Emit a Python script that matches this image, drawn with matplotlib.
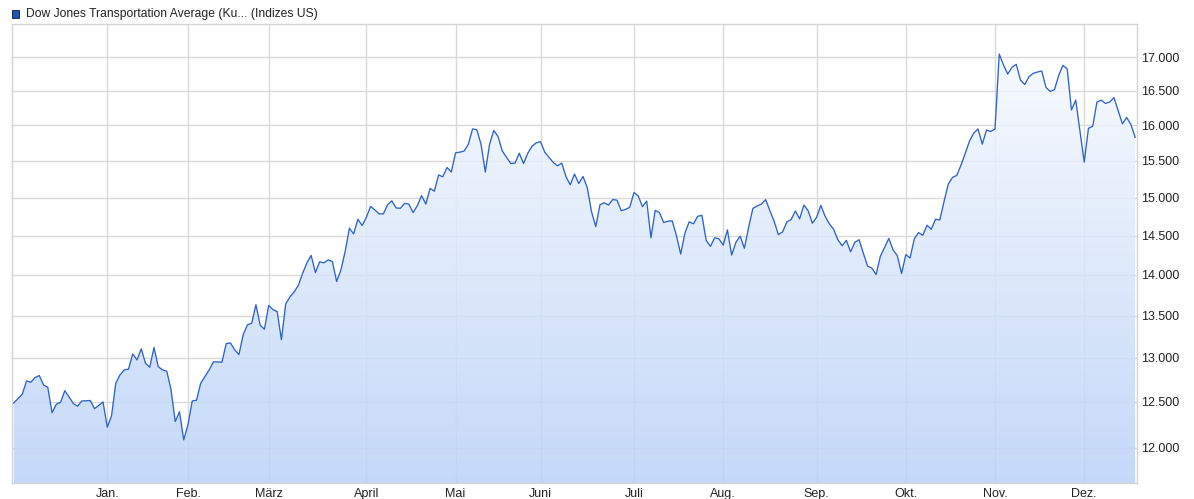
"""
Dow Jones Transportation Average, one year of daily closes, drawn on a log
scale with a gradient area fill (finance-portal look).
"""

import numpy as np
import matplotlib
matplotlib.use("Agg")
import matplotlib.pyplot as plt
from matplotlib.colors import LinearSegmentedColormap
from matplotlib.patches import Rectangle

plt.rcParams["font.family"] = ["Liberation Sans", "DejaVu Sans"]

TITLE = "Dow Jones Transportation Average (Ku... (Indizes US)"

# trading-day index (0 = first trading day of January) and closing value
days = [-22, -20, -19, -18, -17, -16, -15, -14, -13, -12, -11, -10, -9, -8, -7, -6,
        -4, -3, -1, 0, 1, 2, 3, 4, 5, 6, 7, 8, 9, 10, 11, 12, 13, 14, 15, 16, 17, 18,
        19, 20, 21, 22, 24, 25, 27, 28, 29, 30, 31, 32, 33, 34, 35, 36, 37, 38, 39,
        40, 41, 42, 43, 44, 45, 46, 47, 48, 49, 50, 51, 52, 53, 54, 55, 56, 57, 58,
        59, 60, 61, 62, 63, 64, 65, 66, 67, 68, 69, 70, 71, 72, 73, 74, 75, 76, 77,
        78, 79, 80, 81, 82, 83, 84, 85, 86, 87, 88, 89, 90, 91, 92, 93, 94, 95, 96,
        97, 98, 99, 100, 101, 102, 103, 104, 105, 106, 107, 108, 109, 110, 111, 112,
        113, 114, 115, 116, 117, 118, 119, 120, 121, 122, 123, 124, 125, 126, 127,
        128, 129, 130, 131, 132, 133, 134, 135, 136, 137, 138, 139, 140, 141, 142,
        143, 144, 145, 146, 147, 148, 149, 150, 151, 152, 153, 154, 155, 156, 157,
        158, 159, 160, 161, 162, 163, 164, 165, 166, 167, 168, 169, 170, 171, 172,
        173, 174, 175, 176, 177, 178, 179, 180, 181, 182, 183, 184, 185, 186, 187,
        188, 189, 190, 191, 192, 193, 194, 195, 196, 197, 198, 199, 200, 201, 202,
        203, 204, 205, 206, 207, 208, 209, 210, 211, 212, 213, 214, 215, 216, 217,
        218, 219, 220, 221, 222, 223, 224, 225, 226, 227, 228, 230, 231, 232, 233,
        234, 235, 236, 237, 238, 239, 240, 241, 242]

closes = [12489, 12588, 12737, 12722, 12775, 12798, 12691, 12665, 12380, 12475, 12497,
          12626, 12557, 12483, 12453, 12511, 12516, 12425, 12500, 12222, 12345, 12711,
          12806, 12863, 12871, 13048, 12977, 13107, 12939, 12893, 13123, 12900, 12863,
          12848, 12642, 12283, 12391, 12084, 12250, 12511, 12519, 12711, 12863, 12956,
          12952, 13168, 13176, 13095, 13040, 13274, 13390, 13410, 13633, 13386, 13338,
          13624, 13574, 13550, 13214, 13641, 13728, 13790, 13872, 14021, 14152, 14246,
          14029, 14165, 14152, 14189, 14169, 13918, 14061, 14295, 14595, 14522, 14713,
          14631, 14739, 14883, 14836, 14784, 14784, 14905, 14957, 14862, 14858, 14923,
          14914, 14801, 14893, 15027, 14914, 15123, 15087, 15305, 15282, 15409, 15346,
          15612, 15621, 15636, 15729, 15948, 15937, 15729, 15346, 15729, 15927, 15840,
          15636, 15548, 15463, 15469, 15606, 15463, 15606, 15704, 15752, 15767, 15621,
          15548, 15477, 15432, 15469, 15282, 15173, 15318, 15191, 15286, 15136, 14814,
          14617, 14905, 14931, 14901, 14974, 14966, 14826, 14843, 14870, 15068, 15023,
          14879, 14953, 14472, 14830, 14801, 14670, 14687, 14692, 14500, 14263, 14535,
          14679, 14653, 14752, 14765, 14439, 14361, 14472, 14459, 14377, 14574, 14251,
          14414, 14492, 14337, 14609, 14857, 14888, 14914, 14974, 14826, 14687, 14513,
          14548, 14679, 14709, 14822, 14718, 14901, 14826, 14661, 14739, 14896, 14752,
          14653, 14583, 14447, 14369, 14439, 14292, 14414, 14447, 14275, 14111, 14086,
          14005, 14234, 14349, 14463, 14316, 14242, 14017, 14255, 14214, 14459, 14539,
          14504, 14635, 14583, 14713, 14705, 14948, 15183, 15273, 15300, 15442, 15606,
          15777, 15889, 15948, 15733, 15932, 15912, 15948, 17050, 16883, 16749, 16849,
          16894, 16658, 16592, 16708, 16759, 16779, 16794, 16550, 16490, 16517, 16730,
          16879, 16824, 16220, 16363, 15482, 15957, 15986, 16335, 16363, 16315, 16335,
          16400, 16210, 16020, 16112, 16010, 15829]

# first trading day of each month
month_days = [0, 19, 38, 61, 82, 102, 124, 145, 167, 188, 209, 230]
month_labels = ["Jan.", "Feb.", "März", "April", "Mai", "Juni", "Juli", "Aug.",
                "Sep.", "Okt.", "Nov.", "Dez."]
y_ticks = [12000, 12500, 13000, 13500, 14000, 14500, 15000, 15500, 16000, 16500, 17000]

LINE = "#2f63c8"
GRID = "#d9d9d9"


def de_fmt(v):
    return f"{v:,.0f}".replace(",", ".")


def main():
    fig = plt.figure(figsize=(11.94, 4.99), dpi=100)
    ax = fig.add_axes([11.7 / 1194, 1 - 483 / 499, (1137.3 - 11.7) / 1194, (483 - 23.5) / 499])

    ax.set_yscale("log")
    ax.set_xlim(-22.5, 242.5)
    ax.set_ylim(11628, 17521)

    # gradient fill under the line, clipped to the area polygon
    area = ax.fill_between(days, closes, 1000, color="none", lw=0)
    cmap = LinearSegmentedColormap.from_list("grad", ["#bad2f7", "#fbfcff"])
    grad = np.linspace(0, 1, 256).reshape(-1, 1)
    img = ax.imshow(grad, cmap=cmap, aspect="auto", extent=[0, 1, 0, 1],
                    transform=ax.transAxes, origin="lower", alpha=0.85, zorder=1)
    img.set_clip_path(area.get_paths()[0], transform=ax.transData)

    ax.plot(days, closes, color=LINE, lw=0.95, zorder=3)

    ax.set_xlim(-22.5, 242.5)
    ax.set_ylim(11628, 17521)

    ax.set_xticks(month_days)
    ax.set_xticklabels(month_labels)
    ax.yaxis.set_major_locator(matplotlib.ticker.FixedLocator(y_ticks))
    ax.yaxis.set_minor_locator(matplotlib.ticker.NullLocator())
    ax.set_yticklabels([de_fmt(v) for v in y_ticks])
    ax.yaxis.tick_right()
    ax.tick_params(axis="both", length=0, labelsize=9, colors="#222222")
    ax.tick_params(axis="x", pad=3.5)
    ax.tick_params(axis="y", pad=3)

    ax.grid(True, color=GRID, lw=1, zorder=0)
    ax.set_axisbelow(True)
    for s in ax.spines.values():
        s.set_color("#d4d4d4")
        s.set_linewidth(1)

    # legend-like header
    fig.patches.append(Rectangle((12.3 / 1194, 1 - 17.5 / 499), 7 / 1194, 7 / 499,
                                 transform=fig.transFigure, facecolor="#1f56b0",
                                 edgecolor="#1a2f5a", lw=0.7))
    fig.text(25.5 / 1194, 1 - 13.5 / 499, TITLE, fontsize=8.75, color="#222222",
             va="center", ha="left")

    fig.savefig("out.png", dpi=100)
    plt.close(fig)


if __name__ == "__main__":
    main()
